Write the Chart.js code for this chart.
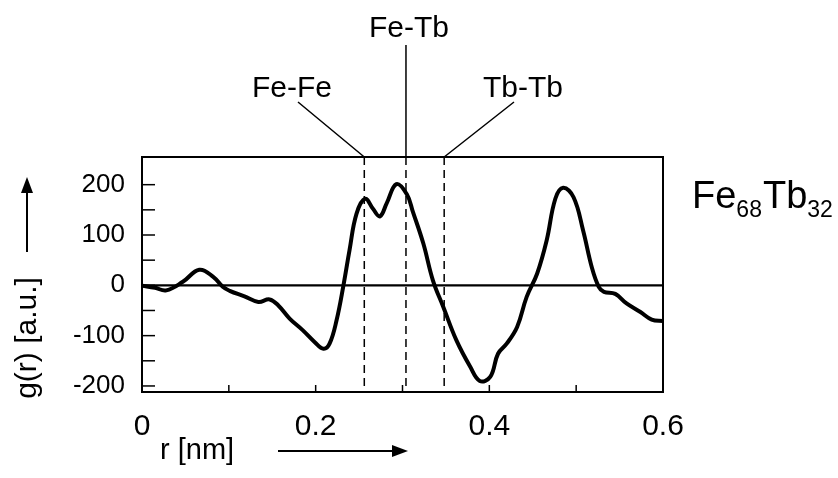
<!DOCTYPE html>
<html>
<head>
<meta charset="utf-8">
<script src="https://cdn.jsdelivr.net/npm/chart.js@4.4.1/dist/chart.umd.min.js"></script>
<style>
  html, body { margin: 0; padding: 0; background: #fff; }
  canvas { display: block; }
</style>
</head>
<body>
<canvas id="gr" width="838" height="478"></canvas>
<script>
// r [nm] と g(r) の読み取り値
const rVals = [0, 0.015, 0.028, 0.047, 0.066, 0.082, 0.093, 0.101, 0.118, 0.134, 0.147, 0.157,
  0.170, 0.185, 0.199, 0.209, 0.216, 0.224, 0.232, 0.239, 0.247, 0.257, 0.266, 0.274, 0.282,
  0.293, 0.305, 0.312, 0.324, 0.335, 0.347, 0.362, 0.378, 0.389, 0.401, 0.410, 0.420, 0.432,
  0.443, 0.455, 0.466, 0.476, 0.485, 0.497, 0.508, 0.518, 0.526, 0.532, 0.545, 0.558, 0.574,
  0.587, 0.600];
const gVals = [-1, -5, -10, 7, 31, 17, -3, -11, -22, -33, -28, -40,
  -66, -89, -113, -126, -116, -70, 0, 70, 142, 172, 152, 137, 164,
  201, 181, 146, 83, 10, -43, -109, -162, -190, -182, -136, -116, -83,
  -23, 23, 89, 172, 194, 175, 109, 36, -3, -13, -17, -36, -53,
  -68, -71];

const xTickVals = [0, 0.1, 0.2, 0.3, 0.4, 0.5, 0.6];
const xLabelVals = [0, 0.2, 0.4, 0.6];
const yTickVals = [-200, -150, -100, -50, 0, 50, 100, 150, 200];
const yLabelVals = [-200, -100, 0, 100, 200];

// 結合距離のマーカー（破線）
const bondNames = ['Fe-Fe', 'Fe-Tb', 'Tb-Tb'];
const bondR = [0.256, 0.304, 0.348];

const FONT = '"Liberation Sans", Arial, Helvetica, sans-serif';

const decorPlugin = {
  id: 'decor',
  beforeDatasetsDraw(chart) {
    const { ctx, chartArea: a, scales } = chart;
    const xs = scales.x, ys = scales.y;
    ctx.save();
    // ゼロ線
    ctx.strokeStyle = '#000';
    ctx.lineWidth = 2.2;
    const y0 = ys.getPixelForValue(0);
    ctx.beginPath(); ctx.moveTo(a.left, y0); ctx.lineTo(a.right, y0); ctx.stroke();
    // 破線
    ctx.lineWidth = 1.5;
    ctx.setLineDash([8, 5]);
    bondR.forEach(r => {
      const x = xs.getPixelForValue(r);
      ctx.beginPath(); ctx.moveTo(x, a.top); ctx.lineTo(x, a.bottom); ctx.stroke();
    });
    ctx.restore();
  },
  afterDraw(chart) {
    const { ctx, chartArea: a, scales } = chart;
    const xs = scales.x, ys = scales.y;
    ctx.save();
    ctx.strokeStyle = '#000';
    ctx.fillStyle = '#000';

    // 枠
    ctx.lineWidth = 2;
    ctx.strokeRect(a.left, a.top, a.right - a.left, a.bottom - a.top);

    // 内向きの目盛り
    ctx.lineWidth = 1.5;
    yTickVals.forEach(v => {
      const y = ys.getPixelForValue(v);
      ctx.beginPath(); ctx.moveTo(a.left, y); ctx.lineTo(a.left + 13, y); ctx.stroke();
    });
    xTickVals.forEach(v => {
      const x = xs.getPixelForValue(v);
      ctx.beginPath(); ctx.moveTo(x, a.bottom); ctx.lineTo(x, a.bottom - 7); ctx.stroke();
    });

    // 引き出し線とラベル
    ctx.lineWidth = 1.5;
    const px = bondR.map(r => xs.getPixelForValue(r));
    ctx.beginPath();
    ctx.moveTo(298, 102); ctx.lineTo(px[0], a.top);
    ctx.moveTo(px[1], 45); ctx.lineTo(px[1], a.top);
    ctx.moveTo(514, 102); ctx.lineTo(px[2], a.top);
    ctx.stroke();

    ctx.font = '30px ' + FONT;
    ctx.textBaseline = 'alphabetic';
    ctx.textAlign = 'center';
    ctx.fillText(bondNames[0], 292, 97);
    ctx.fillText(bondNames[1], 409, 37);
    ctx.fillText(bondNames[2], 523, 97);

    // Fe68Tb32
    ctx.textAlign = 'left';
    let x = 692;
    const parts = [['Fe', 38, 208], ['68', 23, 217], ['Tb', 38, 208], ['32', 23, 217]];
    parts.forEach(([t, size, base]) => {
      ctx.font = size + 'px ' + FONT;
      ctx.fillText(t, x, base);
      x += ctx.measureText(t).width + (size < 30 ? 1 : 0);
    });

    // 軸タイトル
    ctx.font = '30px ' + FONT;
    ctx.save();
    ctx.translate(36, 338);
    ctx.rotate(-Math.PI / 2);
    ctx.textAlign = 'center';
    ctx.fillText('g(r) [a.u.]', 0, 0);
    ctx.restore();
    ctx.font = '29px ' + FONT;
    ctx.fillText('r [nm]', 160, 459);

    // 矢印
    ctx.lineWidth = 2;
    ctx.beginPath(); ctx.moveTo(27, 252); ctx.lineTo(27, 190); ctx.stroke();
    ctx.beginPath(); ctx.moveTo(27, 177); ctx.lineTo(21, 193); ctx.lineTo(33, 193); ctx.closePath(); ctx.fill();
    ctx.beginPath(); ctx.moveTo(278, 451); ctx.lineTo(395, 451); ctx.stroke();
    ctx.beginPath(); ctx.moveTo(408, 451); ctx.lineTo(392, 445); ctx.lineTo(392, 457); ctx.closePath(); ctx.fill();

    ctx.restore();
  }
};

new Chart(document.getElementById('gr'), {
  type: 'line',
  data: {
    datasets: [{
      data: rVals.map((r, i) => ({ x: r, y: gVals[i] })),
      borderColor: '#000',
      borderWidth: 4,
      pointRadius: 0,
      tension: 0.4,
      fill: false
    }]
  },
  options: {
    responsive: false,
    animation: false,
    devicePixelRatio: 1,
    layout: { padding: { left: 0, right: 175, top: 157, bottom: 0 } },
    plugins: { legend: { display: false }, tooltip: { enabled: false } },
    scales: {
      x: {
        type: 'linear',
        min: 0, max: 0.6,
        grid: { display: false },
        border: { display: false },
        afterBuildTicks: s => { s.ticks = xTickVals.map(v => ({ value: v })); },
        afterFit: s => { s.height = 86; },
        ticks: {
          autoSkip: false, maxRotation: 0, padding: 9, color: '#000',
          font: { family: FONT, size: 30 },
          callback: v => xLabelVals.some(l => Math.abs(l - v) < 1e-9) ? String(+v.toFixed(1)) : ''
        }
      },
      y: {
        min: -212, max: 255,
        grid: { display: false },
        border: { display: false },
        afterBuildTicks: s => { s.ticks = yTickVals.map(v => ({ value: v })); },
        afterFit: s => { s.width = 142; },
        ticks: {
          autoSkip: false, padding: 9, color: '#000',
          font: { family: FONT, size: 26 },
          callback: v => yLabelVals.includes(v) ? String(v) : ''
        }
      }
    }
  },
  plugins: [decorPlugin]
});
</script>
</body>
</html>
